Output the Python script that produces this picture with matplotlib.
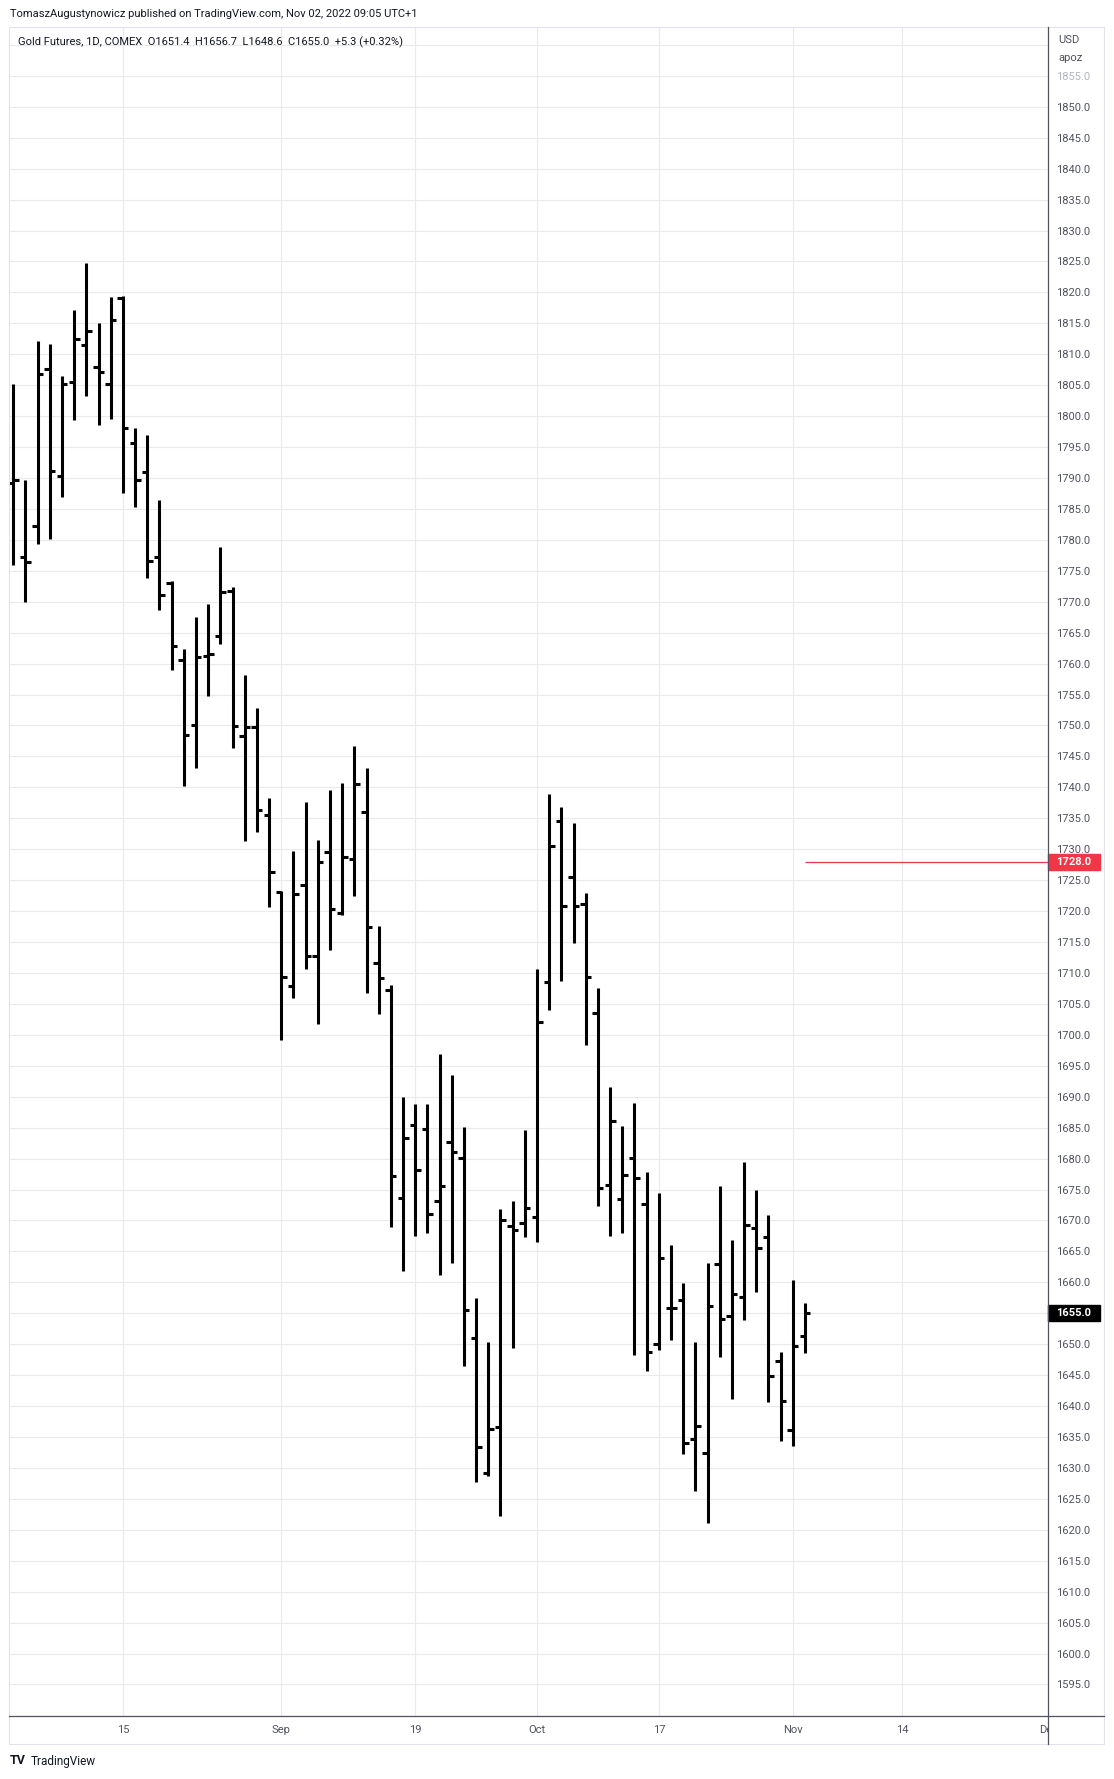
import numpy as np
import matplotlib.pyplot as plt
from matplotlib.collections import LineCollection
from matplotlib.lines import Line2D
from matplotlib.patches import Rectangle
from matplotlib.transforms import Bbox, TransformedBbox

plt.rcParams['font.family'] = ['Roboto', 'DejaVu Sans']

# Gold Futures daily bars, Aug 2 - Nov 2 2022 (trading days only)
opens = [1789.2, 1777.3, 1782.2, 1807.7, 1790.4, 1805.5, 1811.5, 1807.9, 1805.2, 1819.1,
         1795.6, 1790.9, 1777.2, 1773.1, 1760.6, 1750.0, 1761.3, 1764.4, 1771.7, 1748.3,
         1749.8, 1735.5, 1723.1, 1707.9, 1724.2, 1712.8, 1729.5, 1719.7, 1728.4, 1736.0,
         1711.6, 1707.3, 1673.7, 1685.4, 1684.8, 1673.2, 1682.7, 1680.1, 1651.0, 1629.1,
         1636.6, 1669.1, 1669.6, 1670.5, 1708.5, 1734.6, 1725.5, 1721.1, 1703.5, 1675.7,
         1673.4, 1680.1, 1672.7, 1650.0, 1655.9, 1657.2, 1634.7, 1632.4, 1662.9, 1654.5,
         1657.7, 1668.7, 1667.3, 1647.2, 1636.1, 1651.4]
highs = [1805.2, 1789.6, 1812.2, 1811.7, 1806.5, 1817.2, 1824.8, 1815.1, 1819.2, 1819.4,
         1798.1, 1796.9, 1786.5, 1773.3, 1762.3, 1767.5, 1769.7, 1778.9, 1772.4, 1758.1,
         1752.9, 1738.2, 1723.3, 1729.7, 1737.6, 1731.5, 1739.6, 1740.7, 1746.7, 1743.1,
         1717.6, 1708.1, 1690.0, 1688.9, 1688.9, 1696.9, 1693.5, 1685.1, 1657.5, 1650.3,
         1671.8, 1673.2, 1684.6, 1710.6, 1738.9, 1736.8, 1734.3, 1723.0, 1707.5, 1691.6,
         1685.3, 1689.0, 1677.9, 1674.5, 1666.1, 1659.9, 1650.4, 1663.2, 1675.6, 1666.9,
         1679.5, 1675.0, 1670.9, 1648.7, 1660.4, 1656.7]
lows = [1776.0, 1769.9, 1779.4, 1780.2, 1786.9, 1799.4, 1803.3, 1798.6, 1799.6, 1787.6,
        1785.3, 1773.9, 1768.7, 1759.0, 1740.2, 1743.1, 1754.8, 1763.1, 1746.3, 1731.4,
        1732.8, 1720.6, 1699.1, 1705.9, 1710.6, 1701.7, 1713.7, 1719.4, 1722.4, 1706.8,
        1703.4, 1668.9, 1661.9, 1667.5, 1668.0, 1661.2, 1663.2, 1646.5, 1627.7, 1628.7,
        1622.2, 1649.4, 1667.4, 1666.5, 1704.0, 1708.7, 1714.8, 1698.4, 1672.4, 1667.5,
        1668.0, 1648.3, 1645.6, 1649.1, 1650.6, 1632.2, 1626.2, 1621.1, 1648.0, 1641.2,
        1653.9, 1658.4, 1640.7, 1634.4, 1633.6, 1648.6]
closes = [1789.7, 1776.5, 1806.8, 1791.2, 1805.2, 1812.4, 1813.7, 1807.2, 1815.6, 1798.1,
          1789.7, 1776.6, 1771.1, 1762.9, 1748.4, 1761.1, 1761.5, 1771.5, 1749.9, 1749.7,
          1736.3, 1726.3, 1709.4, 1722.7, 1712.8, 1727.9, 1720.3, 1728.7, 1740.6, 1717.4,
          1709.2, 1677.2, 1683.4, 1678.2, 1671.1, 1675.6, 1681.1, 1655.6, 1633.4, 1636.3,
          1670.0, 1668.5, 1672.0, 1702.0, 1730.5, 1720.8, 1720.8, 1709.3, 1675.2, 1686.1,
          1677.4, 1676.9, 1648.8, 1664.0, 1655.8, 1634.1, 1636.7, 1656.2, 1654.1, 1658.1,
          1669.2, 1665.6, 1644.8, 1640.8, 1649.7, 1655.0]

# time axis labels (bar index)
tick_pos = [9, 22, 33, 43, 53, 64, 73]
tick_labels = ['15', 'Sep', '19', 'Oct', '17', 'Nov', '14']
dec_pos = 85

price_ticks = np.arange(1595, 1861, 5)
alert_level = 1728.0

W, H = 1114, 1779
TXT = '#131722'
AXC = '#50535e'


def fx(px):
    return px / W


def fy(py):
    return 1 - py / H


fig = plt.figure(figsize=(W / 100, H / 100), dpi=100)
ax = fig.add_axes([fx(10), fy(1716), fx(1048) - fx(10), fy(27) - fy(1716)])
ax.set_xlim(-0.27, 84.95)
ax.set_ylim(1589.9, 1862.9)
for s in ax.spines.values():
    s.set_visible(False)

# grid + ticks
ax.set_xticks(tick_pos, tick_labels)
ax.set_yticks(price_ticks, ['%.1f' % t if t < 1860 else '' for t in price_ticks])
ax.yaxis.tick_right()
ax.grid(True, color='#eaeaed', lw=0.8)
ax.tick_params(axis='y', length=0, pad=5.8, labelsize=8, labelcolor=AXC)
ax.tick_params(axis='x', length=0, pad=6.5, labelsize=8, labelcolor=AXC)
for t, tick in zip(price_ticks, ax.yaxis.get_major_ticks()):
    if t == 1855:
        tick.label2.set_color('#b2b5be')

# OHLC bars
x = np.arange(len(opens))
tk = 0.45
stems = [((i, l), (i, h)) for i, l, h in zip(x, lows, highs)]
oticks = [((i - tk, o), (i, o)) for i, o in zip(x, opens)]
cticks = [((i, c), (i + tk, c)) for i, c in zip(x, closes)]
ax.add_collection(LineCollection(stems + oticks + cticks, colors='black',
                                 linewidths=2.2, capstyle='butt', zorder=3))

# alert line
ax.hlines(alert_level, x[-1], ax.get_xlim()[1], color='#f23645', lw=0.9, zorder=3)

# price labels on the axis
ytr = ax.get_yaxis_transform()
bw = 52 / 1038
for val, col in [(alert_level, '#f23645'), (closes[-1], '#000000')]:
    h = 16 / 6.186
    ax.add_patch(Rectangle((1.0, val - h / 2), bw, h, transform=ytr, color=col,
                           clip_on=False, zorder=5))
    ax.text(1.0 + 8 / 1038, val, '%.1f' % val, transform=ytr, color='white', fontsize=8,
            fontweight='bold', va='center', ha='left', clip_on=False, zorder=6)

# truncated Dec label under the price axis
dec = fig.text(dec_pos, -14 / 1689, 'Dec', transform=ax.get_xaxis_transform(),
               fontsize=8, color=AXC, ha='center', va='center')
dec.set_clip_box(TransformedBbox(Bbox([[0, 0], [fx(1048), 1]]), fig.transFigure))
dec.set_clip_on(True)

# frame and axis lines
fig.add_artist(Rectangle((fx(9), fy(1744)), fx(1104) - fx(9), fy(27) - fy(1744),
                         transform=fig.transFigure, fill=False, ec='#e0e3eb', lw=0.8))
fig.add_artist(Line2D([fx(1048), fx(1048)], [fy(27), fy(1744)], color=AXC, lw=0.9))
fig.add_artist(Line2D([fx(9), fx(1104)], [fy(1716), fy(1716)], color=AXC, lw=0.9))

# header texts
fig.text(fx(10), fy(14), 'TomaszAugustynowicz published on TradingView.com, Nov 02, 2022 09:05 UTC+1',
         fontsize=8, color=TXT, va='center')
chg = closes[-1] - closes[-2]
legend = 'Gold Futures, 1D, COMEX  O%.1f  H%.1f  L%.1f  C%.1f  %+.1f (%+.2f%%)' % (
    opens[-1], highs[-1], lows[-1], closes[-1], chg, chg / closes[-2] * 100)
fig.text(fx(18), fy(42), legend, fontsize=8, color=TXT, va='center')
fig.text(fx(1058), fy(40), 'USD', fontsize=8, color=AXC, va='center')
fig.text(fx(1058), fy(58), 'apoz', fontsize=8, color=AXC, va='center')

# footer
fig.text(fx(10), fy(1761), 'TV', fontsize=9, fontweight='bold', color=TXT, va='center')
fig.text(fx(31), fy(1761), 'TradingView', fontsize=8.5, color=TXT, va='center')

fig.savefig('out.png', dpi=100, facecolor='white')
